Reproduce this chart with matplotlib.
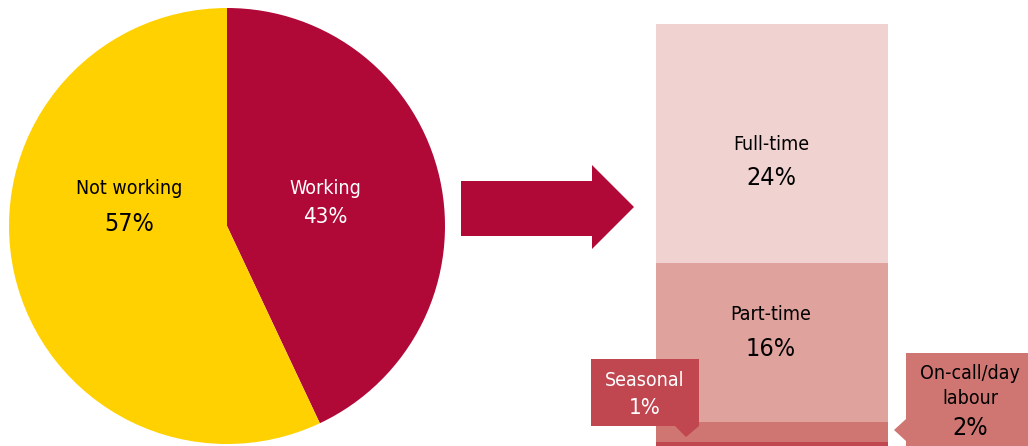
import matplotlib.pyplot as plt
from matplotlib.patches import Polygon

# data
pie_labels = ['Working', 'Not working']
pie_values = [43, 57]
pie_colors = ['#B00837', '#FFD100']

bar_labels = ['Seasonal', 'On-call/day\nlabour', 'Part-time', 'Full-time']
bar_values = [1, 2, 16, 24]
bar_colors = ['#C04650', '#D07672', '#DFA29C', '#F0D3D0']

W, H = 1028, 446
plt.rcParams['font.family'] = ['DejaVu Sans']
FS = dict(fontstretch='condensed')

fig = plt.figure(figsize=(W / 100, H / 100), dpi=100)


def fig_box(x0, y0, x1, y1):
    # pixel box (top-left origin) -> figure fraction
    return [x0 / W, 1 - y1 / H, (x1 - x0) / W, (y1 - y0) / H]


# pie
ax_pie = fig.add_axes(fig_box(9, 8, 445, 444))
ax_pie.pie(pie_values, colors=pie_colors, startangle=90, counterclock=False,
           radius=1, wedgeprops=dict(linewidth=0))
ax_pie.set_xlim(-1, 1)
ax_pie.set_ylim(-1, 1)
ax_pie.set_aspect('equal')
ax_pie.axis('off')

# stacked bar (cropped at the bottom like the original)
ax_bar = fig.add_axes(fig_box(656, 24, 888, 446))
bottom = 0
for v, c in zip(bar_values, bar_colors):
    ax_bar.bar(0, v, bottom=bottom, width=1, color=c, linewidth=0)
    bottom += v
ax_bar.set_xlim(-0.5, 0.5)
ax_bar.set_ylim(0.59, sum(bar_values))
ax_bar.axis('off')

# overlay in pixel coordinates for labels, arrow and callouts
ov = fig.add_axes([0, 0, 1, 1])
ov.set_xlim(0, W)
ov.set_ylim(H, 0)
ov.axis('off')
ov.patch.set_alpha(0)

ov.text(325, 189, pie_labels[0], color='white', ha='center', va='center', fontsize=14, **FS)
ov.text(325, 217, f'{pie_values[0]}%', color='white', ha='center', va='center', fontsize=16, **FS)
ov.text(129, 188, pie_labels[1], color='black', ha='center', va='center', fontsize=14, **FS)
ov.text(129, 224, f'{pie_values[1]}%', color='black', ha='center', va='center', fontsize=18, **FS)

ov.text(771, 144, bar_labels[3], ha='center', va='center', fontsize=14, **FS)
ov.text(771, 178, f'{bar_values[3]}%', ha='center', va='center', fontsize=18, **FS)
ov.text(771, 314, bar_labels[2], ha='center', va='center', fontsize=14, **FS)
ov.text(771, 349, f'{bar_values[2]}%', ha='center', va='center', fontsize=18, **FS)

arrow = [(461, 181), (592, 181), (592, 165), (634, 207), (592, 249), (592, 236), (461, 236)]
ov.add_patch(Polygon(arrow, closed=True, color='#B00837', lw=0))

seasonal = [(591, 359), (699, 359), (699, 426), (686, 437), (675, 426), (591, 426)]
ov.add_patch(Polygon(seasonal, closed=True, color=bar_colors[0], lw=0))
ov.text(645, 380, bar_labels[0], color='white', ha='center', va='center', fontsize=14, **FS)
ov.text(645, 408, f'{bar_values[0]}%', color='white', ha='center', va='center', fontsize=16, **FS)

oncall = [(906, 353), (1028, 353), (1028, 446), (906, 446), (906, 441), (894, 430), (906, 419)]
ov.add_patch(Polygon(oncall, closed=True, color=bar_colors[1], lw=0))
ov.text(970, 386, bar_labels[1], color='black', ha='center', va='center', fontsize=14,
        linespacing=1.35, **FS)
ov.text(970, 428, f'{bar_values[1]}%', color='black', ha='center', va='center', fontsize=18, **FS)

fig.savefig('out.png', dpi=100)
